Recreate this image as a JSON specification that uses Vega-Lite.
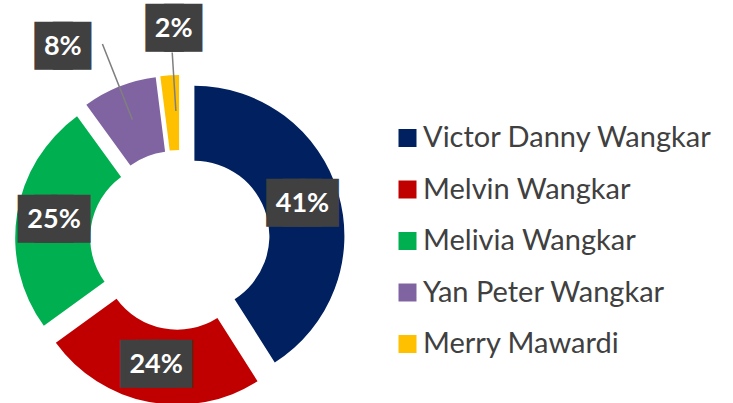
{
  "$schema": "https://vega.github.io/schema/vega-lite/v6.json",
  "width": 360,
  "height": 480,
  "autosize": "none",
  "padding": {"left": 0, "top": 0, "right": 373, "bottom": 0},
  "background": "white",
  "config": {"view": {"stroke": null}},
  "data": {"values": [
    {"name": "Victor Danny Wangkar", "value": 0.41, "rank": 1},
    {"name": "Melvin Wangkar", "value": 0.24, "rank": 2},
    {"name": "Melivia Wangkar", "value": 0.25, "rank": 3},
    {"name": "Yan Peter Wangkar", "value": 0.08, "rank": 4},
    {"name": "Merry Mawardi", "value": 0.02, "rank": 5}
  ]},
  "transform": [{"stack": "value", "groupby": [], "sort": [{"field": "rank", "order": "ascending"}], "as": ["v0", "v1"]}],
  "encoding": {
    "theta": {"field": "v0", "type": "quantitative", "scale": {"domain": [0, 1]}},
    "theta2": {"field": "v1"}
  },
  "layer": [
    {
      "transform": [{"filter": "datum.rank === 1"}],
      "mark": {"type": "arc", "radius": 150, "radius2": 75, "xOffset": 14.4, "yOffset": -4.2},
      "encoding": {"color": {"field": "name", "type": "nominal",
        "scale": {"domain": ["Victor Danny Wangkar", "Melvin Wangkar", "Melivia Wangkar", "Yan Peter Wangkar", "Merry Mawardi"], "range": ["#002060", "#C00000", "#00B050", "#8064A2", "#FFC000"]},
        "legend": {"orient": "none", "legendX": 393, "legendY": 123.5, "title": null, "symbolType": "square", "symbolSize": 324, "symbolStrokeWidth": 0, "labelFont": "Lato", "labelFontSize": 29, "labelColor": "#404040", "labelOffset": 1, "rowPadding": 21.5, "padding": 0, "labelLimit": 400}}}
    },
    {
      "transform": [{"filter": "datum.rank === 2"}],
      "mark": {"type": "arc", "radius": 150, "radius2": 75, "xOffset": -2.8, "yOffset": 14.7},
      "encoding": {"color": {"field": "name", "type": "nominal"}}
    },
    {
      "transform": [{"filter": "datum.rank === 3"}],
      "mark": {"type": "arc", "radius": 150, "radius2": 75, "xOffset": -14.8, "yOffset": -2.3},
      "encoding": {"color": {"field": "name", "type": "nominal"}}
    },
    {
      "transform": [{"filter": "datum.rank === 4"}],
      "mark": {"type": "arc", "radius": 150, "radius2": 75, "xOffset": -5.5, "yOffset": -13.9},
      "encoding": {"color": {"field": "name", "type": "nominal"}}
    },
    {
      "transform": [{"filter": "datum.rank === 5"}],
      "mark": {"type": "arc", "radius": 150, "radius2": 75, "xOffset": -0.9, "yOffset": -15.0},
      "encoding": {"color": {"field": "name", "type": "nominal"}}
    },
    {
      "transform": [{"filter": "datum.rank === 4"}],
      "mark": {"type": "arc", "radius": 210, "radius2": 130, "thetaOffset": 0.2513, "theta2Offset": -0.2513, "fill": "transparent", "stroke": "#7f7f7f", "strokeWidth": 1.5}
    },
    {
      "transform": [{"filter": "datum.rank === 5"}],
      "mark": {"type": "arc", "radius": 187, "radius2": 130, "thetaOffset": 0.0628, "theta2Offset": -0.0628, "xOffset": 4, "fill": "transparent", "stroke": "#7f7f7f", "strokeWidth": 1.5}
    },
    {
      "mark": {"type": "text", "radius": 127.5, "font": "DejaVu Sans", "fontSize": 21.65, "color": "#404040", "stroke": "#404040", "strokeWidth": 22.35, "strokeJoin": "miter", "baseline": "middle", "align": "center", "text": "███"},
      "encoding": {"theta": {"field": "value", "type": "quantitative", "stack": true}, "theta2": null, "order": {"field": "rank"}, "detail": {"field": "name"},
        "opacity": {"condition": {"test": "datum.value >= 0.2", "value": 1}, "value": 0}}
    },
    {
      "mark": {"type": "text", "radius": 127.5, "font": "Lato", "fontWeight": "bold", "fontSize": 27, "color": "white", "baseline": "middle", "align": "center"},
      "encoding": {"theta": {"field": "value", "type": "quantitative", "stack": true}, "theta2": null, "order": {"field": "rank"}, "detail": {"field": "name"},
        "text": {"field": "value", "format": ".0%"},
        "opacity": {"condition": {"test": "datum.value >= 0.2", "value": 1}, "value": 0}}
    },
    {
      "mark": {"type": "text", "radius": 226, "dx": -34, "dy": 17, "font": "DejaVu Sans", "fontSize": 24, "color": "#404040", "stroke": "#404040", "strokeWidth": 19.6, "strokeJoin": "miter", "baseline": "middle", "align": "center", "text": "██"},
      "encoding": {"theta": {"field": "value", "type": "quantitative", "stack": true}, "theta2": null, "order": {"field": "rank"}, "detail": {"field": "name"},
        "opacity": {"condition": {"test": "datum.rank === 4", "value": 1}, "value": 0}}
    },
    {
      "mark": {"type": "text", "radius": 226, "dx": -34, "dy": 17, "font": "Lato", "fontWeight": "bold", "fontSize": 27, "color": "white", "baseline": "middle", "align": "center"},
      "encoding": {"theta": {"field": "value", "type": "quantitative", "stack": true}, "theta2": null, "order": {"field": "rank"}, "detail": {"field": "name"},
        "text": {"field": "value", "format": ".0%"},
        "opacity": {"condition": {"test": "datum.rank === 4", "value": 1}, "value": 0}}
    },
    {
      "mark": {"type": "text", "radius": 211, "dx": 7, "font": "DejaVu Sans", "fontSize": 24, "color": "#404040", "stroke": "#404040", "strokeWidth": 19.6, "strokeJoin": "miter", "baseline": "middle", "align": "center", "text": "██"},
      "encoding": {"theta": {"field": "value", "type": "quantitative", "stack": true}, "theta2": null, "order": {"field": "rank"}, "detail": {"field": "name"},
        "opacity": {"condition": {"test": "datum.rank === 5", "value": 1}, "value": 0}}
    },
    {
      "mark": {"type": "text", "radius": 211, "dx": 7, "font": "Lato", "fontWeight": "bold", "fontSize": 27, "color": "white", "baseline": "middle", "align": "center"},
      "encoding": {"theta": {"field": "value", "type": "quantitative", "stack": true}, "theta2": null, "order": {"field": "rank"}, "detail": {"field": "name"},
        "text": {"field": "value", "format": ".0%"},
        "opacity": {"condition": {"test": "datum.rank === 5", "value": 1}, "value": 0}}
    }
  ]
}
